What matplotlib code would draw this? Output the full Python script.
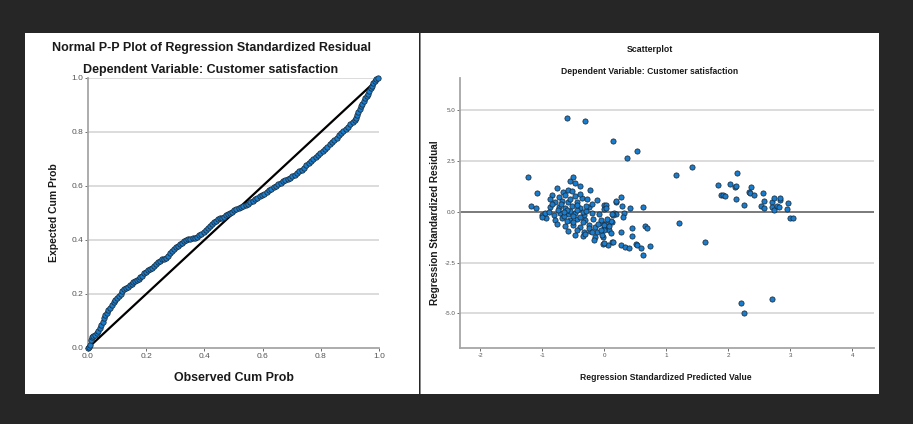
import matplotlib
matplotlib.use("Agg")
import numpy as np
from matplotlib import pyplot as plt
from matplotlib.patches import Rectangle

# ---- data ----
pp_observed = [0.000, 0.003, 0.007, 0.010, 0.013, 0.018, 0.024, 0.030, 0.036, 0.041,
               0.046, 0.052, 0.056, 0.060, 0.064, 0.069, 0.075, 0.082, 0.088, 0.094,
               0.100, 0.106, 0.112, 0.118, 0.124, 0.130, 0.137, 0.144, 0.150, 0.156,
               0.162, 0.168, 0.174, 0.180, 0.186, 0.192, 0.198, 0.205, 0.212, 0.219,
               0.226, 0.233, 0.240, 0.247, 0.254, 0.261, 0.268, 0.275, 0.282, 0.289,
               0.296, 0.303, 0.310, 0.317, 0.324, 0.331, 0.338, 0.345, 0.352, 0.360,
               0.368, 0.375, 0.382, 0.390, 0.398, 0.405, 0.412, 0.419, 0.426, 0.433,
               0.440, 0.447, 0.454, 0.461, 0.468, 0.475, 0.482, 0.489, 0.496, 0.503,
               0.510, 0.518, 0.526, 0.534, 0.542, 0.550, 0.558, 0.566, 0.574, 0.582,
               0.590, 0.598, 0.606, 0.614, 0.622, 0.630, 0.638, 0.646, 0.654, 0.662,
               0.670, 0.678, 0.686, 0.694, 0.702, 0.710, 0.718, 0.726, 0.734, 0.742,
               0.750, 0.758, 0.766, 0.774, 0.782, 0.790, 0.798, 0.806, 0.814, 0.822,
               0.830, 0.838, 0.846, 0.854, 0.862, 0.870, 0.878, 0.886, 0.894, 0.902,
               0.910, 0.916, 0.920, 0.924, 0.928, 0.933, 0.938, 0.943, 0.948, 0.953,
               0.958, 0.963, 0.967, 0.971, 0.976, 0.981, 0.986, 0.991, 0.996]
pp_expected = [0.000, 0.005, 0.012, 0.030, 0.040, 0.046, 0.050, 0.055, 0.062, 0.075,
               0.085, 0.098, 0.110, 0.122, 0.130, 0.140, 0.150, 0.160, 0.170, 0.178,
               0.185, 0.193, 0.200, 0.210, 0.218, 0.222, 0.226, 0.232, 0.238, 0.245,
               0.248, 0.252, 0.256, 0.262, 0.268, 0.276, 0.282, 0.288, 0.292, 0.297,
               0.302, 0.310, 0.318, 0.324, 0.328, 0.330, 0.334, 0.342, 0.352, 0.360,
               0.368, 0.374, 0.378, 0.384, 0.390, 0.395, 0.400, 0.402, 0.404, 0.406,
               0.408, 0.412, 0.418, 0.424, 0.430, 0.438, 0.445, 0.452, 0.460, 0.467,
               0.472, 0.477, 0.480, 0.483, 0.487, 0.492, 0.496, 0.500, 0.505, 0.510,
               0.514, 0.518, 0.522, 0.526, 0.530, 0.535, 0.540, 0.546, 0.552, 0.557,
               0.562, 0.567, 0.572, 0.578, 0.584, 0.590, 0.595, 0.600, 0.606, 0.612,
               0.617, 0.621, 0.625, 0.630, 0.636, 0.642, 0.648, 0.654, 0.660, 0.668,
               0.676, 0.684, 0.692, 0.700, 0.707, 0.714, 0.722, 0.730, 0.738, 0.746,
               0.754, 0.762, 0.770, 0.779, 0.788, 0.796, 0.804, 0.812, 0.820, 0.828,
               0.836, 0.845, 0.852, 0.862, 0.874, 0.885, 0.895, 0.905, 0.915, 0.925,
               0.933, 0.942, 0.952, 0.962, 0.972, 0.982, 0.990, 0.996, 1.000]

pred_value = [-0.61, -0.32, 0.145, 0.52, 0.37, -1.24, -1.08, 1.15, 1.41, 1.2, 1.63, 2.2, 2.26, 2.71,
              # right group
              2.14, 1.83, 2.03, 2.10, 2.12, 1.88, 1.91, 1.95, 2.12, 2.26, 2.37, 2.33, 2.35, 2.42,
              2.56, 2.58, 2.53, 2.58, 2.70, 2.73, 2.71, 2.74, 2.79, 2.81, 2.83, 2.84, 2.96, 2.94,
              2.99, 3.04,
              # between cluster and 1
              0.27, 0.19, 0.28, 0.41, 0.62, 0.15, 0.18, 0.31, 0.30, 0.0, 0.0, 0.12, -0.04, 0.03,
              -0.01, 0.07, 0.1, -0.02, 0.12, 0.05, -0.02, 0.26, 0.45, 0.45, 0.65, 0.68, 0.26, 0.33,
              0.39, 0.51, 0.53, 0.59, 0.62, 0.74, 0.11, 0.14, 0.02, -0.12, 0.18,
              # main cluster
              -1.18, -1.1, -1.0, -0.95, -1.0, -0.56, -0.5, -0.48, -0.40, -0.24, -0.77, -0.67, -0.58,
              -0.52, -0.84, -0.74, -0.63, -0.47, -0.36, -0.88, -0.79, -0.68, -0.58, -0.44, -0.28,
              -0.87, -0.74, -0.63, -0.52, -0.39, -0.25, -0.2, 0.02, -0.96, -0.82, -0.71, -0.58,
              -0.47, -0.33, -0.2, -0.09, 0.12, -0.79, -0.68, -0.55, -0.44, -0.31, -0.19, -0.06,
              0.04, -0.76, -0.63, -0.5, -0.39, -0.25, -0.15, -0.01, -0.58, -0.44, -0.33, -0.23,
              -0.12, 0.0, -0.47, -0.35, -0.31, -0.15, -0.04, -0.16, -0.01, 0.14,
              -0.55, -0.45, -0.6, -0.35, -0.5, -0.4, -0.65, -0.3, -0.7, -0.55, -0.45, -0.35,
              -0.25, -0.5, -0.6, -0.9, -0.85, -0.4, -0.3, -0.1, -0.2, -0.05, 0.08, -0.65, -0.75]
std_residual = [4.63, 4.47, 3.51, 3.02, 2.64, 1.72, 0.95, 1.83, 2.23, -0.53, -1.46, -4.47, -4.98, -4.29,
                1.9, 1.31, 1.38, 1.25, 1.28, 0.85, 0.84, 0.8, 0.64, 0.34, 1.25, 0.97, 0.95, 0.82,
                0.95, 0.54, 0.31, 0.21, 0.48, 0.67, 0.26, 0.1, 0.31, 0.26, 0.59, 0.67, 0.46, 0.15,
                -0.31, -0.31,
                0.72, 0.51, 0.31, 0.21, 0.23, -0.03, -0.11, -0.06, -0.26, 0.34, 0.13, -0.48, -0.56, -0.61,
                -0.8, -0.89, -1.05, -1.22, -1.46, -1.63, -1.59, -0.97, -0.8, -1.18, -0.69, -0.77, -1.63, -1.71,
                -1.76, -1.58, -1.63, -1.79, -2.12, -1.66, -0.43, -0.15, 0.34, 0.59, 0.54,
                0.31, 0.21, -0.15, -0.31, -0.23, 1.54, 1.74, 1.41, 1.3, 1.08, 1.17, 1.0, 1.08,
                1.03, 0.84, 0.75, 0.84, 0.8, 0.67, 0.62, 0.51, 0.54, 0.48, 0.51, 0.62,
                0.26, 0.26, 0.21, 0.3, 0.18, 0.26, 0.38, 0.18, -0.06, -0.15, -0.06, -0.11,
                -0.06, -0.15, -0.06, -0.11, -0.11, -0.39, -0.31, -0.39, -0.34, -0.39, -0.34, -0.39,
                -0.36, -0.61, -0.67, -0.64, -0.72, -0.64, -0.72, -0.64, -0.94, -0.89, -0.97, -0.94,
                -0.97, -0.89, -1.13, -1.17, -1.1, -1.22, -1.13, -1.38, -1.54, -1.49,
                0.05, 0.1, 0.1, 0.0, -0.2, -0.25, -0.2, 0.05, 0.4, 0.65, 0.35, -0.5,
                -0.8, -0.5, -0.45, 0.0, 0.4, 0.9, 0.3, -0.6, -1.0, -0.9, -0.7, 0.0, 0.1]

pp_ticks = [0.0, 0.2, 0.4, 0.6, 0.8, 1.0]
pp_tick_labels = ["0.0", "0.2", "0.4", "0.6", "0.8", "1.0"]
sc_xticks = [-2, -1, 0, 1, 2, 3, 4]
sc_yticks = [-5.0, -2.5, 0.0, 2.5, 5.0]
sc_ytick_labels = ["-5.0", "-2.5", "0.0", "2.5", "5.0"]

plt.rcParams['font.family'] = ['Liberation Sans', 'DejaVu Sans']

W, H = 913, 424
fig = plt.figure(figsize=(W / 100, H / 100), dpi=100, facecolor='#262626')


def fx(px):
    return px / W


def fy(py):
    return 1 - py / H


# white panels behind the axes
for left, width, col in [(25, 394, 'white'), (421, 458, 'white'), (419.5, 1.5, '#8a8a8a')]:
    fig.patches.append(Rectangle((fx(left), fy(394)), fx(width), 361 / H, transform=fig.transFigure,
                                 facecolor=col, edgecolor='none', zorder=-5))

marker_fill = '#1a7ccc'
grid_c = '#d9d9d9'
spine_c = '#a6a6a6'
tick_c = '#555555'
text_c = '#1a1a1a'

# ---- left: P-P plot ----
ax1 = fig.add_axes([fx(88), fy(348), fx(291), 270 / H])
ax1.set_facecolor('none')
ax1.set_xlim(0, 1)
ax1.set_ylim(0, 1)
for yv in [0.2, 0.4, 0.6, 0.8, 1.0]:
    ax1.axhline(yv, color=grid_c, lw=1.3, zorder=1)
ax1.plot([0, 1], [0, 1], color='black', lw=1.6, zorder=2)
ax1.scatter(pp_observed, pp_expected, s=15, color=marker_fill, edgecolors='#1b2a38',
            linewidths=0.55, zorder=3, clip_on=False)
for s in ['top', 'right']:
    ax1.spines[s].set_visible(False)
for s in ['left', 'bottom']:
    ax1.spines[s].set_color(spine_c)
    ax1.spines[s].set_linewidth(1.3)
ax1.set_xticks(pp_ticks)
ax1.set_xticklabels(pp_tick_labels)
ax1.set_yticks(pp_ticks)
ax1.set_yticklabels(pp_tick_labels)
ax1.tick_params(labelsize=6, colors=tick_c, length=2, width=0.6, pad=1.5)

fig.text(fx(211), fy(48), "Normal P-P Plot of Regression Standardized Residual",
         ha='center', va='center', fontsize=9, fontweight='bold', color=text_c)
fig.text(fx(211), fy(70), "Dependent Variable: Customer satisfaction",
         ha='center', va='center', fontsize=9, fontweight='bold', color=text_c)
fig.text(fx(234), fy(378), "Observed Cum Prob", ha='center', va='center',
         fontsize=8.9, fontweight='bold', color=text_c)
fig.text(fx(54), fy(213), "Expected Cum Prob", ha='center', va='center', rotation=90,
         fontsize=7.5, fontweight='bold', color=text_c)

# ---- right: scatterplot ----
ax2 = fig.add_axes([fx(460), fy(348), fx(414), 270 / H])
ax2.set_facecolor('none')
ax2.set_xlim(-2.33, 4.35)
ax2.set_ylim(-6.7, 6.6)
for yv in [-5.0, -2.5, 2.5, 5.0]:
    ax2.axhline(yv, color=grid_c, lw=1.3, zorder=1)
ax2.axhline(0, color='#707070', lw=1.3, zorder=1)
ax2.scatter(pred_value, std_residual, s=14, color=marker_fill, edgecolors='#1b2a38',
            linewidths=0.55, zorder=3)
for s in ['top', 'right']:
    ax2.spines[s].set_visible(False)
for s in ['left', 'bottom']:
    ax2.spines[s].set_color(spine_c)
    ax2.spines[s].set_linewidth(1.3)
ax2.set_xticks(sc_xticks)
ax2.set_xticklabels([str(v) for v in sc_xticks])
ax2.set_yticks(sc_yticks)
ax2.set_yticklabels(sc_ytick_labels)
ax2.tick_params(labelsize=4.5, colors=tick_c, length=2, width=0.6, pad=1.5)

fig.text(fx(650), fy(50), "Scatterplot", ha='center', va='center',
         fontsize=6.3, fontweight='bold', color=text_c)
fig.text(fx(650), fy(71), "Dependent Variable: Customer satisfaction", ha='center', va='center',
         fontsize=6.2, fontweight='bold', color=text_c)
fig.text(fx(666), fy(378), "Regression Standardized Predicted Value", ha='center', va='center',
         fontsize=6.2, fontweight='bold', color=text_c)
fig.text(fx(435), fy(223), "Regression Standardized Residual", ha='center', va='center',
         rotation=90, fontsize=7.2, fontweight='bold', color=text_c)

fig.savefig("out.png", dpi=100, facecolor=fig.get_facecolor())
